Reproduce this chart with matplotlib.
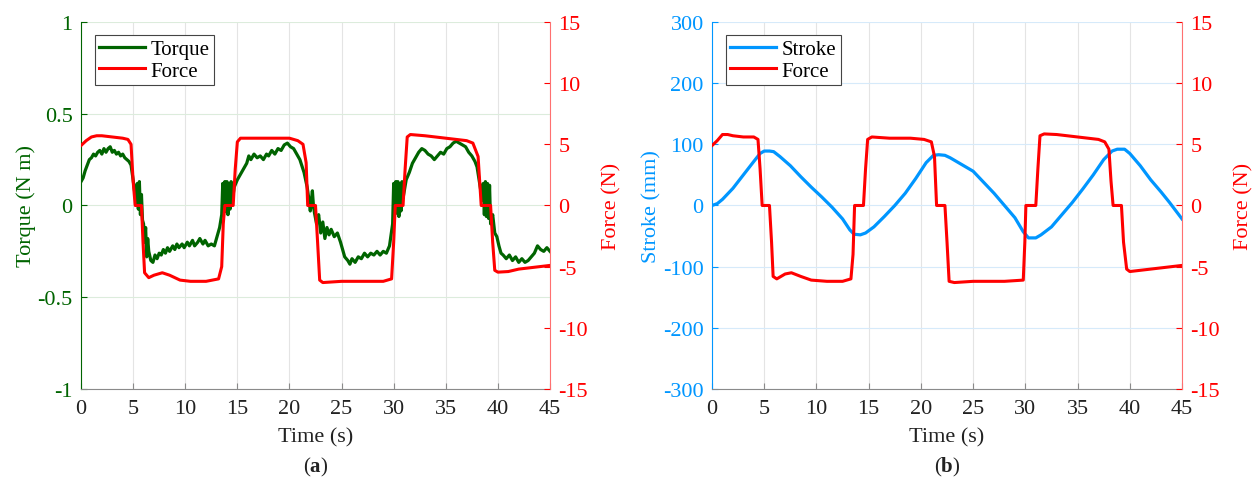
import matplotlib
matplotlib.use("Agg")
import matplotlib.pyplot as plt
import numpy as np

# ---- panel (a): torque (time s, torque N m) ----
torque_pts = [
    (0, 0.13), (0.2, 0.15), (0.4, 0.19), (0.6, 0.22), (0.8, 0.25), (1.0, 0.26), (1.2, 0.28),
    (1.4, 0.27), (1.6, 0.29), (1.8, 0.30), (2.0, 0.28), (2.2, 0.31), (2.4, 0.29), (2.6, 0.31),
    (2.8, 0.32), (3.0, 0.29), (3.2, 0.30), (3.4, 0.28), (3.6, 0.29), (3.8, 0.27), (4.0, 0.28),
    (4.2, 0.26), (4.4, 0.25), (4.6, 0.24), (4.8, 0.22), (5.0, 0.14), (5.2, 0.05), (5.3, 0.0),
    (5.4, 0.12), (5.5, -0.02), (5.6, 0.13), (5.7, -0.05), (5.8, 0.06), (5.9, -0.08), (6.0, -0.10),
    (6.1, -0.20), (6.2, -0.12), (6.3, -0.28), (6.4, -0.18), (6.5, -0.25), (6.7, -0.30), (6.9, -0.31),
    (7.1, -0.27), (7.3, -0.29), (7.5, -0.26), (7.7, -0.27), (7.9, -0.24), (8.1, -0.26), (8.3, -0.23),
    (8.5, -0.25), (8.8, -0.22), (9.0, -0.24), (9.2, -0.21), (9.4, -0.23), (9.7, -0.21), (9.9, -0.23),
    (10.2, -0.20), (10.4, -0.22), (10.7, -0.19), (10.9, -0.22), (11.2, -0.20), (11.4, -0.18),
    (11.7, -0.21), (11.9, -0.19), (12.2, -0.22), (12.5, -0.21), (12.8, -0.22), (13.0, -0.18),
    (13.3, -0.12), (13.5, -0.05), (13.6, 0.12), (13.7, -0.04), (13.8, 0.13), (13.9, -0.03),
    (14.0, 0.13), (14.1, -0.05), (14.2, 0.12), (14.3, -0.02), (14.4, 0.13), (14.5, 0.02),
    (14.7, 0.10), (15.0, 0.14), (15.3, 0.17), (15.6, 0.20), (15.9, 0.23), (16.1, 0.27), (16.3, 0.25),
    (16.6, 0.28), (16.9, 0.26), (17.2, 0.27), (17.5, 0.25), (17.8, 0.28), (18.0, 0.27), (18.3, 0.30),
    (18.6, 0.28), (18.9, 0.31), (19.2, 0.30), (19.5, 0.33), (19.8, 0.34), (20.1, 0.32), (20.4, 0.31),
    (20.7, 0.28), (21.0, 0.25), (21.4, 0.18), (21.7, 0.10), (21.9, 0.02), (22.0, -0.03), (22.2, 0.08),
    (22.3, 0.0), (22.4, -0.04), (22.6, -0.10), (22.8, -0.05), (23.0, -0.15), (23.2, -0.09),
    (23.4, -0.18), (23.6, -0.12), (23.8, -0.16), (24.0, -0.13), (24.3, -0.17), (24.6, -0.15),
    (24.9, -0.20), (25.1, -0.24), (25.3, -0.28), (25.6, -0.30), (25.8, -0.32), (26.0, -0.29),
    (26.3, -0.31), (26.6, -0.28), (26.9, -0.29), (27.2, -0.26), (27.5, -0.28), (27.8, -0.26),
    (28.1, -0.27), (28.4, -0.25), (28.7, -0.27), (29.0, -0.25), (29.3, -0.26), (29.6, -0.22),
    (29.9, -0.10), (30.0, 0.12), (30.1, -0.05), (30.2, 0.13), (30.3, -0.04), (30.4, 0.13),
    (30.5, -0.06), (30.6, 0.12), (30.7, -0.03), (30.8, 0.13), (30.9, 0.04), (31.2, 0.14),
    (31.5, 0.18), (31.8, 0.23), (32.1, 0.26), (32.4, 0.29), (32.7, 0.31), (33.0, 0.30), (33.3, 0.28),
    (33.6, 0.27), (33.9, 0.25), (34.2, 0.27), (34.5, 0.29), (34.8, 0.28), (35.1, 0.31), (35.4, 0.32),
    (35.7, 0.34), (36.0, 0.35), (36.3, 0.34), (36.6, 0.33), (36.9, 0.32), (37.2, 0.29), (37.5, 0.27),
    (37.8, 0.24), (38.0, 0.21), (38.3, 0.10), (38.5, 0.03), (38.6, 0.12), (38.7, -0.05), (38.8, 0.13),
    (38.9, -0.06), (39.0, 0.12), (39.1, -0.07), (39.2, 0.11), (39.3, -0.10), (39.5, -0.05),
    (39.7, -0.15), (39.9, -0.17), (40.1, -0.22), (40.3, -0.26), (40.5, -0.27), (40.8, -0.29),
    (41.1, -0.27), (41.4, -0.30), (41.7, -0.28), (42.0, -0.31), (42.3, -0.29), (42.6, -0.31),
    (42.9, -0.30), (43.2, -0.28), (43.5, -0.26), (43.8, -0.22), (44.1, -0.24), (44.4, -0.25),
    (44.7, -0.23), (45.0, -0.25),
]

force_a_t = [0, 0.5, 1, 1.5, 2, 3, 4, 4.5, 4.8, 5.0, 5.2, 5.8, 5.95, 6.1, 6.5, 7, 7.8, 8.5, 9.5, 10.5,
             12, 13.2, 13.5, 13.65, 13.8, 14.6, 14.8, 15.0, 15.3, 17, 19, 20, 20.8, 21.3, 21.6, 21.75,
             22.5, 22.7, 22.9, 23.2, 25, 27, 29, 29.8, 30.0, 30.15, 30.9, 31.1, 31.3, 31.6, 33, 35, 37,
             37.6, 38.1, 38.4, 39.3, 39.5, 39.7, 40, 41, 42, 43, 44, 45]
force_a_v = [4.9, 5.3, 5.6, 5.7, 5.7, 5.6, 5.5, 5.4, 5.0, 2.0, 0.0, 0.0, -3.0, -5.5, -5.9, -5.7, -5.5,
             -5.7, -6.1, -6.2, -6.2, -6.0, -5.0, -1.5, 0.0, 0.0, 3.0, 5.2, 5.5, 5.5, 5.5, 5.5, 5.3,
             5.0, 3.5, 0.0, 0.0, -3.0, -6.1, -6.3, -6.2, -6.2, -6.2, -6.0, -3.0, 0.0, 0.0, 3.0, 5.6,
             5.8, 5.7, 5.5, 5.3, 5.1, 4.0, 0.0, 0.0, -3.0, -5.3, -5.45, -5.4, -5.2, -5.1, -5.0, -4.9]

# ---- panel (b): stroke and force ----
stroke_t = [0, 0.5, 1, 2, 3, 4, 4.6, 5.0, 5.5, 5.9, 6.5, 7.5, 8.5, 9.5, 10.5, 11.5, 12.5, 13.2, 13.6,
            14.2, 14.7, 15.5, 16.5, 17.5, 18.5, 19.5, 20.5, 21.2, 21.7, 22.3, 22.8, 23.8, 25, 26, 27,
            28, 29, 29.8, 30.3, 31, 31.5, 32.5, 33.5, 34.5, 35.5, 36.5, 37.5, 38.3, 38.8, 39.5, 40,
            41, 42, 43, 43.8, 45]
stroke_v = [0, 3, 10, 28, 50, 72, 85, 89, 89, 88, 80, 65, 47, 30, 14, -3, -22, -40, -47, -48, -45,
            -35, -18, 0, 20, 44, 70, 82, 83, 82, 78, 68, 56, 38, 20, 0, -20, -43, -53, -53, -48, -35,
            -15, 5, 27, 50, 75, 89, 92, 92, 85, 65, 42, 22, 5, -22]

force_b_t = [0, 0.5, 1, 1.5, 2, 3, 4, 4.4, 4.6, 4.8, 5.5, 5.7, 5.85, 6.2, 7, 7.6, 8.5, 9.5, 11, 12.5,
             13.3, 13.5, 13.65, 14.5, 14.7, 14.9, 15.3, 17, 19, 20.3, 21, 21.3, 21.5, 22.3, 22.5, 22.7,
             23.2, 25, 28, 29.8, 29.95, 30.05, 31, 31.2, 31.4, 31.8, 33, 35, 37, 37.6, 38, 38.2, 38.4,
             39.2, 39.4, 39.7, 40, 41, 42, 43, 44, 45]
force_b_v = [4.9, 5.3, 5.8, 5.8, 5.7, 5.6, 5.6, 5.4, 3.0, 0.0, 0.0, -3.0, -5.8, -6.0, -5.6, -5.5, -5.8,
             -6.1, -6.2, -6.2, -6.0, -4.0, 0.0, 0.0, 3.0, 5.4, 5.6, 5.5, 5.5, 5.4, 5.2, 4.0, 0.0, 0.0,
             -3.0, -6.2, -6.3, -6.2, -6.2, -6.1, -3.0, 0.0, 0.0, 3.0, 5.7, 5.85, 5.8, 5.6, 5.4, 5.2,
             4.6, 2.0, 0.0, 0.0, -3.0, -5.2, -5.4, -5.3, -5.2, -5.1, -5.0, -4.9]

x_ticks = [0, 5, 10, 15, 20, 25, 30, 35, 40, 45]
torque_ticks = [-1, -0.5, 0, 0.5, 1]
stroke_ticks = [-300, -200, -100, 0, 100, 200, 300]
force_ticks = [-15, -10, -5, 0, 5, 10, 15]

GREEN = "#006400"
RED = "#ff0000"
BLUE = "#0096ff"
GRAY = "#8a8a8a"

plt.rcParams.update({
    "font.family": "Liberation Serif",
    "font.size": 16,
    "axes.unicode_minus": False,
    "mathtext.fontset": "custom",
    "mathtext.bf": "Liberation Serif:bold",
    "mathtext.rm": "Liberation Serif",
})


def style_pair(ax, axr, left_color, hgrid_color, yticks, ylim, ylabel, fmt):
    ax.set_xlim(0, 45)
    ax.set_xticks(x_ticks)
    ax.set_ylim(*ylim)
    ax.set_yticks(yticks)
    ax.set_yticklabels([fmt(v) for v in yticks])
    ax.grid(True, axis="x", color="#e4e4e4", lw=0.8)
    ax.grid(True, axis="y", color=hgrid_color, lw=0.8)
    ax.set_axisbelow(True)
    for s in ["top", "right"]:
        ax.spines[s].set_visible(False)
    ax.spines["left"].set_color(left_color)
    ax.spines["bottom"].set_color(GRAY)
    ax.tick_params(axis="x", direction="in", length=4, colors=GRAY, labelcolor="#222222", pad=7)
    ax.tick_params(axis="y", direction="in", length=4, colors=left_color, pad=6)
    ax.set_xlabel("Time (s)", color="#222222", labelpad=7)
    ax.set_ylabel(ylabel, color=left_color, labelpad=1)

    axr.set_ylim(-15, 15)
    axr.set_yticks(force_ticks)
    axr.set_yticklabels([str(v) for v in force_ticks])
    for s in ["top", "left", "bottom"]:
        axr.spines[s].set_visible(False)
    axr.spines["right"].set_color("#ff7070")
    axr.tick_params(axis="y", direction="in", length=4, colors=RED, pad=6)
    axr.set_ylabel("Force (N)", color=RED, labelpad=10)


def fmt_torque(v):
    if v == int(v):
        return str(int(v))
    return f"{v:g}"


def add_legend(ax, handles, labels):
    leg = ax.legend(handles, labels, loc="upper left", bbox_to_anchor=(0.02, 0.975),
                    fancybox=False, edgecolor="#444444", framealpha=1, fontsize=15,
                    handlelength=2.2, handletextpad=0.3, borderpad=0.2, labelspacing=0.1,
                    borderaxespad=0.2)
    leg.get_frame().set_linewidth(0.8)
    leg.set_zorder(10)


torque_t = [p[0] for p in torque_pts]
torque_v = [p[1] for p in torque_pts]

fig = plt.figure(figsize=(12.56, 4.89), dpi=100)
ax_a = fig.add_axes([0.0645, 0.2025, 0.3734, 0.7505])
ax_ar = ax_a.twinx()
ax_b = fig.add_axes([0.5669, 0.2025, 0.3742, 0.7505])
ax_br = ax_b.twinx()

l1, = ax_a.plot(torque_t, torque_v, color=GREEN, lw=2.3)
l2, = ax_ar.plot(force_a_t, force_a_v, color=RED, lw=2.2)
style_pair(ax_a, ax_ar, GREEN, "#dcecdc", torque_ticks, (-1, 1), "Torque (N m)", fmt_torque)
add_legend(ax_ar, [l1, l2], ["Torque", "Force"])

l3, = ax_b.plot(stroke_t, stroke_v, color=BLUE, lw=2.3)
l4, = ax_br.plot(force_b_t, force_b_v, color=RED, lw=2.2)
style_pair(ax_b, ax_br, BLUE, "#d6eafa", stroke_ticks, (-300, 300), "Stroke (mm)", lambda v: str(v))
add_legend(ax_br, [l3, l4], ["Stroke", "Force"])

fig.text(0.2512, 0.043, r"($\mathbf{a}$)", ha="center", va="center", fontsize=15, color="#222222")
fig.text(0.754, 0.043, r"($\mathbf{b}$)", ha="center", va="center", fontsize=15, color="#222222")

fig.savefig("out.png", dpi=100)
